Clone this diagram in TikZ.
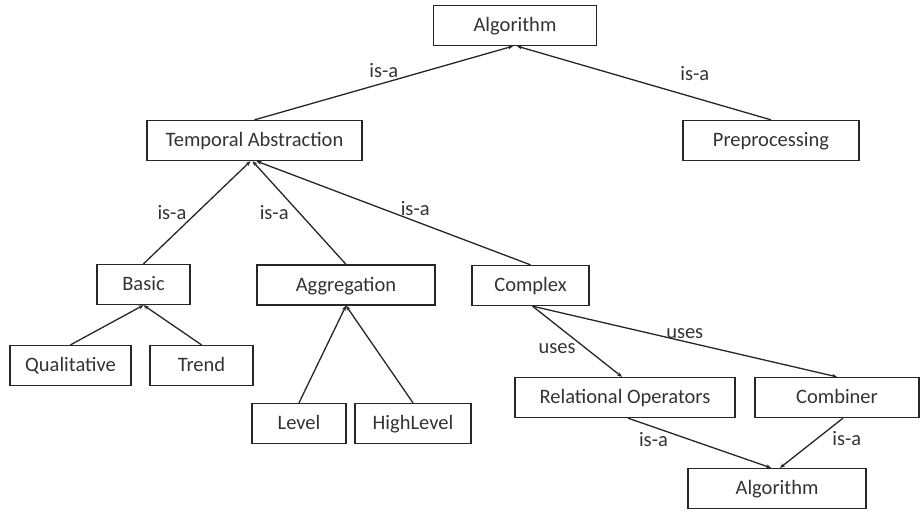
\documentclass[tikz,border=0pt]{standalone}
\usepackage{fontspec}
\setmainfont{Carlito}
\usepackage{tikz}
\usetikzlibrary{arrows.meta, positioning}
\tikzset{
    box/.style={
        rectangle,
        draw=black!85,
        line width=1.3pt,
        minimum height=40pt,
        inner sep=2pt,
        text height=15pt,
        text depth=3pt,
        font=\fontsize{20.5}{24}\selectfont,
        text=black!80,
    },
    lbl/.style={
        font=\fontsize{20.5}{24}\selectfont,
        text=black!80,
        inner sep=2pt,
    },
}

\begin{document}
\begin{tikzpicture}[x=1pt, y=-1pt, -{Stealth[length=5pt,width=4pt]}, line width=1.3pt, draw=black!85]
      \useasboundingbox (0,0) rectangle (921,511);

      \node[box, minimum width=163pt] (alg) at (515,25.5) {Algorithm};

      \node[box, minimum width=215pt] (ta) at (254.5,140.5) {Temporal Abstraction};

      \node[box, minimum width=176pt] (pre) at (771,140.5) {Preprocessing};

      \node[box, minimum width=93pt] (basic) at (143.5,284.5) {Basic};

      \node[box, minimum width=178pt] (agg) at (346,285) {Aggregation};

      \node[box, minimum width=117pt] (cplx) at (530.5,285.5) {Complex};

      \node[box, minimum width=121pt] (qual) at (70.5,365.5) {Qualitative};

      \node[box, minimum width=103pt] (trend) at (201.5,365.5) {Trend};

      \node[box, minimum width=94pt] (lvl) at (299,423.5) {Level};

      \node[box, minimum width=116pt] (hlvl) at (413,423.5) {HighLevel};

      \node[box, minimum width=220pt] (relop) at (625,397.5) {Relational Operators};

      \node[box, minimum width=164pt] (comb) at (837,397.5) {Combiner};

      \node[box, minimum width=178pt] (alg2) at (777,488.5) {Algorithm};

      \draw (ta.north) -- node[lbl, above, pos=0.5, yshift=3pt] {is-a} ([xshift=-2pt]alg.south);
      \draw (pre.north) -- node[lbl, above, pos=0.3, yshift=14pt] {is-a} ([xshift=2pt]alg.south);
      \draw (basic.north) -- node[lbl, left, pos=0.5, xshift=-8pt] {is-a} ([xshift=-4pt]ta.south);
      \draw (agg.north) -- node[lbl, left, pos=0.5, xshift=-8pt] {is-a} ([xshift=-2pt]ta.south);
      \draw (cplx.north) -- node[lbl, above, pos=0.45, xshift=8pt] {is-a} ([xshift=2pt]ta.south);
      \draw (qual.north) -- (basic.south);
      \draw (trend.north) -- (basic.south);
      \draw (lvl.north) -- (agg.south);
      \draw (hlvl.north) -- (agg.south);
      \draw ([xshift=2pt]cplx.south) -- node[lbl, left, pos=0.6, xshift=-8pt] {uses} ([xshift=-3pt]relop.north);
      \draw ([xshift=2pt]cplx.south) -- node[lbl, above, pos=0.5] {uses} (comb.north);
      \draw ([xshift=3pt]relop.south) -- node[lbl, below, pos=0.15, xshift=4pt, yshift=-4pt] {is-a} ([xshift=-6pt]alg2.north);
      \draw ([xshift=6pt]comb.south) -- node[lbl, right, pos=0.4, xshift=12pt] {is-a} ([xshift=3pt]alg2.north);
    \end{tikzpicture}
\end{document}
